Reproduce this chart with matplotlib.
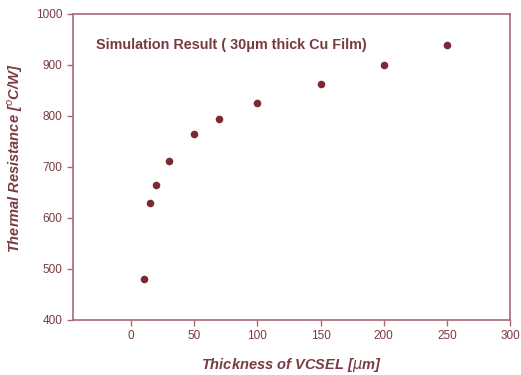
import matplotlib
matplotlib.use("Agg")
import matplotlib.pyplot as plt

plt.rcParams["font.family"] = ["Liberation Sans", "DejaVu Sans"]

thickness = [10, 15, 20, 30, 50, 70, 100, 150, 200, 250]
resistance = [480, 630, 665, 712, 765, 795, 825, 862, 900, 940]
xticks = [0, 50, 100, 150, 200, 250, 300]
yticks = [400, 500, 600, 700, 800, 900, 1000]

DOT = "#7b2a33"
AXC = "#a86a70"
TXT = "#7a3a42"

fig = plt.figure(figsize=(5.21, 3.75), dpi=100)
ax = fig.add_axes([0.140, 0.1467, 0.839, 0.816])
ax.scatter(thickness, resistance, s=30, color=DOT, zorder=3, linewidths=0)

ax.set_xlim(-46, 300)
ax.set_ylim(400, 1000)
ax.set_xticks(xticks)
ax.set_yticks(yticks)
for s in ax.spines.values():
    s.set_color(AXC)
    s.set_linewidth(1.2)
ax.tick_params(colors=AXC, labelcolor=TXT, labelsize=8.5, length=4, width=1)

ax.set_xlabel("Thickness of VCSEL [$\\mu$m]", fontsize=10.5, fontweight="bold",
              style="italic", color=TXT, labelpad=10)
ax.set_ylabel("Thermal Resistance [$^o$C/W]", fontsize=10.5, fontweight="bold",
              style="italic", color=TXT)
ax.yaxis.set_label_coords(-0.11, 0.53)
ax.text(-28, 940, "Simulation Result ( 30\u03bcm thick Cu Film)", fontsize=10.4,
        fontweight="bold", color=TXT, va="center")

fig.savefig("out.png", dpi=100)
